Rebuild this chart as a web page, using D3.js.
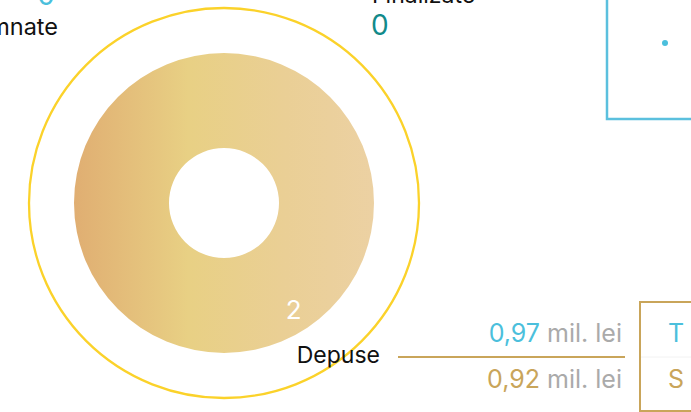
<!DOCTYPE html>
<html><head><meta charset="utf-8">
<script src="https://cdn.jsdelivr.net/npm/d3@7"></script>
<style>
html,body{margin:0;padding:0;background:#fff;overflow:hidden}
svg{display:block;font-family:Inter,Roboto,sans-serif}
</style></head>
<body>
<svg id="c" width="691" height="412"></svg>
<script>
// ---- data ----
const categories = ["Depuse"];
const counts = [2];
const statusLabels = ["Semnate", "Finalizate"];
const statusCounts = [0, 0];
const amountValues = [0.97, 0.92];
const amountUnit = "mil. lei";
const amountKeys = ["T", "S"];

// ---- drawing ----
const svg = d3.select("#c");
const cx = 224, cy = 203;
const rOuter = 150, rInner = 55, rRing = 195;

const defs = svg.append("defs");
const grad = defs.append("linearGradient").attr("id", "g")
  .attr("gradientUnits", "userSpaceOnUse")
  .attr("x1", -rOuter).attr("x2", rOuter).attr("y1", 0).attr("y2", 0);
grad.append("stop").attr("offset", "0%").attr("stop-color", "#E0AE72");
grad.append("stop").attr("offset", "38%").attr("stop-color", "#E8D084");
grad.append("stop").attr("offset", "70%").attr("stop-color", "#EACF95");
grad.append("stop").attr("offset", "100%").attr("stop-color", "#ECD1A3");

const g = svg.append("g").attr("transform", `translate(${cx},${cy})`);

g.append("circle").attr("r", rRing).attr("fill", "none")
  .attr("stroke", "#FBD22A").attr("stroke-width", 2.3);

const pie = d3.pie().sort(null).value(d => d);
const arcs = pie(counts);
const arc = d3.arc().innerRadius(rInner).outerRadius(rOuter);
g.selectAll("path.s").data(arcs).join("path").attr("class", "s")
  .attr("d", arc).attr("fill", "url(#g)");

// value label
const labelAngle = 2.56, labelR = 127;
g.selectAll("text.v").data(arcs).join("text").attr("class", "v")
  .attr("x", d => labelR * Math.sin(labelAngle))
  .attr("y", d => -labelR * Math.cos(labelAngle))
  .attr("text-anchor", "middle").attr("dominant-baseline", "central")
  .attr("fill", "#fff").attr("font-size", 26)
  .text(d => d.data);

// top-left status
svg.append("text").attr("x", 55).attr("y", 5).attr("text-anchor", "end")
  .attr("fill", "#4BBFDC").attr("font-size", 28).text(statusCounts[0]);
svg.append("text").attr("x", 58).attr("y", 35).attr("text-anchor", "end")
  .attr("fill", "#111").attr("font-size", 23.5).text(statusLabels[0]);

// top status
svg.append("text").attr("x", 372).attr("y", 3)
  .attr("fill", "#111").attr("font-size", 23).text(statusLabels[1]);
svg.append("text").attr("x", 371).attr("y", 35)
  .attr("fill", "#128A8A").attr("font-size", 28).text(statusCounts[1]);

// blue box top right
svg.append("rect").attr("x", 607).attr("y", -20).attr("width", 120).attr("height", 139)
  .attr("fill", "none").attr("stroke", "#5BC0DE").attr("stroke-width", 2.5);
svg.append("circle").attr("cx", 665).attr("cy", 43).attr("r", 3).attr("fill", "#4BBFDC");

// Depuse
svg.append("text").attr("x", 380).attr("y", 363).attr("text-anchor", "end")
  .attr("fill", "#111").attr("font-size", 23).text(categories[0]);
svg.append("line").attr("x1", 398).attr("x2", 625).attr("y1", 357).attr("y2", 357)
  .attr("stroke", "#C9A55A").attr("stroke-width", 2);

const fmt = v => d3.format(".2f")(v).replace(".", ",");
const amtColors = ["#4BBFDC", "#C9A55A"];
const amtY = [342, 388];
amountValues.forEach((v, i) => {
  const t = svg.append("text").attr("x", 622).attr("y", amtY[i]).attr("text-anchor", "end")
    .attr("font-size", 25);
  t.append("tspan").attr("fill", amtColors[i]).text(fmt(v));
  t.append("tspan").attr("fill", "#AAAAAA").text(" " + amountUnit);
});

// tan box bottom right
svg.append("rect").attr("x", 640).attr("y", 302).attr("width", 120).attr("height", 109)
  .attr("fill", "none").attr("stroke", "#C9A55A").attr("stroke-width", 2);
svg.append("line").attr("x1", 641).attr("x2", 691).attr("y1", 357).attr("y2", 357)
  .attr("stroke", "#F2F2F2").attr("stroke-width", 1);
amountKeys.forEach((k, i) => {
  svg.append("text").attr("x", 668).attr("y", amtY[i]).attr("font-size", 25)
    .attr("fill", amtColors[i]).text(k);
});
</script>
</body></html>
